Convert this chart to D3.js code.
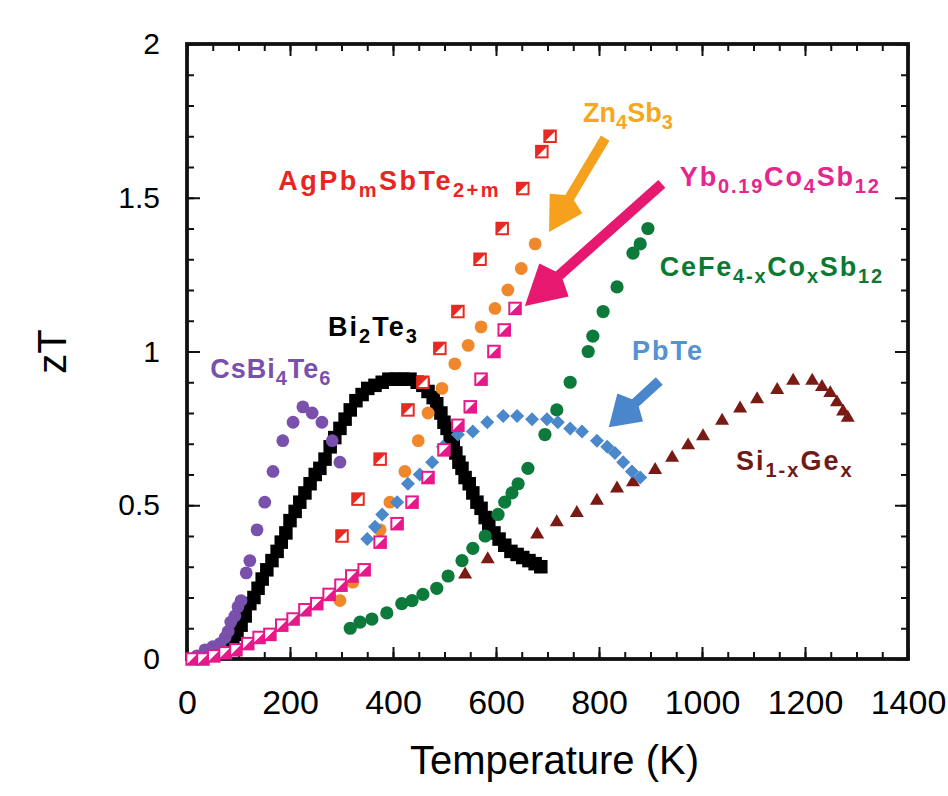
<!DOCTYPE html>
<html>
<head>
<meta charset="utf-8">
<script src="https://cdn.jsdelivr.net/npm/d3@7/dist/d3.min.js"></script>
<style>
  html, body { margin: 0; padding: 0; background: #fff; }
  svg { display: block; }
  text { font-family: "Liberation Sans", Arial, Helvetica, sans-serif; }
</style>
</head>
<body>
<svg id="chart" width="948" height="796"></svg>
<script>
// zT versus temperature for several thermoelectric materials, [T (K), zT]
const csBi4Te6 = [[19,0.01],[35,0.03],[50,0.04],[64,0.05],[74,0.07],[80,0.09],[85,0.12],[93,0.14],[99,0.17],[105,0.19],[115,0.28],[122,0.32],[136,0.42],[151,0.51],[167,0.61],[186,0.71],[206,0.77],[225,0.82],[243,0.80],[262,0.77],[282,0.71],[297,0.64]];
const bi2Te3 = [[89,0.05],[97,0.08],[105,0.11],[113,0.14],[122,0.18],[130,0.20],[138,0.23],[146,0.26],[155,0.29],[165,0.32],[175,0.35],[183,0.38],[192,0.41],[200,0.45],[210,0.48],[219,0.51],[229,0.54],[239,0.57],[249,0.60],[258,0.62],[268,0.65],[278,0.69],[287,0.72],[297,0.75],[307,0.78],[317,0.81],[328,0.84],[340,0.86],[351,0.88],[365,0.89],[379,0.90],[392,0.91],[406,0.91],[419,0.91],[433,0.91],[447,0.90],[458,0.89],[468,0.87],[478,0.85],[485,0.83],[493,0.80],[499,0.77],[505,0.75],[511,0.72],[517,0.70],[522,0.67],[528,0.64],[534,0.62],[540,0.59],[548,0.57],[555,0.54],[563,0.51],[571,0.49],[579,0.46],[586,0.44],[596,0.41],[606,0.39],[617,0.37],[629,0.35],[641,0.34],[652,0.33],[664,0.32],[676,0.31],[687,0.30]];
const agPbSbTe = [[301,0.40],[332,0.52],[375,0.65],[429,0.81],[458,0.90],[491,1.01],[526,1.13],[569,1.30],[612,1.40],[652,1.53],[689,1.65],[705,1.70]];
const zn4Sb3 = [[297,0.19],[322,0.25],[375,0.42],[394,0.51],[423,0.61],[449,0.71],[468,0.80],[495,0.88],[520,0.96],[546,1.02],[571,1.08],[598,1.14],[623,1.20],[649,1.27],[676,1.35]];
const ybCoSb = [[10,0.00],[31,0.00],[52,0.01],[74,0.02],[95,0.03],[118,0.05],[140,0.07],[161,0.08],[184,0.11],[206,0.13],[229,0.16],[252,0.18],[276,0.21],[299,0.24],[320,0.27],[344,0.29],[375,0.38],[408,0.44],[437,0.51],[468,0.59],[499,0.68],[526,0.76],[550,0.82],[571,0.91],[596,1.00],[616,1.07],[637,1.14]];
const ceFeCoSb = [[317,0.10],[336,0.12],[359,0.13],[388,0.15],[417,0.18],[437,0.19],[458,0.21],[485,0.23],[507,0.27],[534,0.32],[555,0.36],[579,0.40],[604,0.47],[617,0.51],[631,0.54],[643,0.57],[662,0.62],[695,0.73],[718,0.81],[744,0.90],[779,1.00],[788,1.05],[808,1.13],[835,1.21],[866,1.32],[880,1.35],[895,1.40]];
const pbTe = [[350,0.39],[365,0.43],[379,0.47],[408,0.51],[429,0.57],[452,0.60],[476,0.64],[497,0.69],[526,0.73],[555,0.74],[583,0.77],[614,0.79],[641,0.79],[670,0.78],[699,0.78],[720,0.77],[744,0.75],[767,0.74],[796,0.71],[816,0.69],[831,0.67],[847,0.64],[864,0.61],[880,0.59]];
const siGe = [[540,0.28],[584,0.33],[680,0.41],[718,0.45],[757,0.48],[796,0.52],[835,0.56],[866,0.58],[909,0.62],[942,0.66],[973,0.70],[1002,0.73],[1039,0.78],[1074,0.82],[1107,0.85],[1146,0.88],[1177,0.91],[1214,0.91],[1233,0.89],[1249,0.87],[1262,0.84],[1274,0.81],[1283,0.79]];

// axis ticks
const xTicks = [0, 200, 400, 600, 800, 1000, 1200, 1400];
const yTicks = [0, 0.5, 1, 1.5, 2];
const xMinor = d3.range(0, 1401, 50);
const yMinor = d3.range(0, 2.001, 0.1);

// material names: [text, isSubscript]
const nameCs = [["CsBi",0],["4",1],["Te",0],["6",1]];
const nameBi = [["Bi",0],["2",1],["Te",0],["3",1]];
const nameAg = [["AgPb",0],["m",1],["SbTe",0],["2+m",1]];
const nameZn = [["Zn",0],["4",1],["Sb",0],["3",1]];
const nameYb = [["Yb",0],["0.19",1],["Co",0],["4",1],["Sb",0],["12",1]];
const nameCe = [["CeFe",0],["4-x",1],["Co",0],["x",1],["Sb",0],["12",1]];
const namePb = [["PbTe",0]];
const nameSi = [["Si",0],["1-x",1],["Ge",0],["x",1]];

const svg = d3.select("#chart");
const x = d3.scaleLinear().domain([0, 1400]).range([187, 908]);
const y = d3.scaleLinear().domain([0, 2]).range([659, 44]);

// ---- axes (ticks point inward) ----
const axisColor = "#111";
function styleAxis(g) {
  g.select(".domain").remove();
  g.selectAll(".tick line").attr("stroke", axisColor).attr("stroke-width", 2);
}
svg.append("g").attr("transform", `translate(0,${y(0)})`)
  .call(d3.axisBottom(x).tickValues(xMinor).tickSize(-7).tickFormat(""))
  .call(styleAxis);
svg.append("g").attr("transform", `translate(0,${y(0)})`)
  .call(d3.axisBottom(x).tickValues(xTicks).tickSize(-12).tickPadding(31).tickFormat(d3.format("d")))
  .call(styleAxis)
  .call(g => g.selectAll("text").attr("font-size", 34).attr("fill", "#000").attr("font-family", "Liberation Sans, Arial, sans-serif"));
svg.append("g").attr("transform", `translate(0,${y(2)})`)
  .call(d3.axisTop(x).tickValues(xMinor).tickSize(-7).tickFormat(""))
  .call(styleAxis);
svg.append("g").attr("transform", `translate(0,${y(2)})`)
  .call(d3.axisTop(x).tickValues(xTicks).tickSize(-12).tickFormat(""))
  .call(styleAxis);
svg.append("g").attr("transform", `translate(${x(0)},0)`)
  .call(d3.axisLeft(y).tickValues(yMinor).tickSize(-7).tickFormat(""))
  .call(styleAxis);
svg.append("g").attr("transform", `translate(${x(0)},0)`)
  .call(d3.axisLeft(y).tickValues(yTicks).tickSize(-13).tickPadding(27).tickFormat(d => String(d)))
  .call(styleAxis)
  .call(g => g.selectAll("text").attr("font-size", 30).attr("fill", "#000").attr("font-family", "Liberation Sans, Arial, sans-serif"));
svg.append("g").attr("transform", `translate(${x(1400)},0)`)
  .call(d3.axisRight(y).tickValues(yMinor).tickSize(-7).tickFormat(""))
  .call(styleAxis);
svg.append("g").attr("transform", `translate(${x(1400)},0)`)
  .call(d3.axisRight(y).tickValues(yTicks).tickSize(-13).tickFormat(""))
  .call(styleAxis);

svg.append("rect")
  .attr("x", x(0)).attr("y", y(2))
  .attr("width", x(1400) - x(0)).attr("height", y(0) - y(2))
  .attr("fill", "none").attr("stroke", axisColor).attr("stroke-width", 3.8);

// axis titles
svg.append("text")
  .attr("transform", `translate(66,${y(1)}) rotate(-90)`)
  .attr("text-anchor", "middle").attr("font-size", 40).text("zT");
svg.append("text")
  .attr("x", (x(0) + x(1400)) / 2 + 7).attr("y", 774)
  .attr("text-anchor", "middle").attr("font-size", 40).text("Temperature (K)");

// ---- markers ----
const plot = svg.append("g");

function circles(data, color, r) {
  plot.append("g").selectAll("circle").data(data).join("circle")
    .attr("cx", d => x(d[0])).attr("cy", d => y(d[1])).attr("r", r).attr("fill", color);
}
function squares(data, color, s) {
  plot.append("g").selectAll("rect").data(data).join("rect")
    .attr("x", d => x(d[0]) - s / 2).attr("y", d => y(d[1]) - s / 2)
    .attr("width", s).attr("height", s).attr("fill", color);
}
function halfSquares(data, color, s, upperLeft) {
  const g = plot.append("g").selectAll("g").data(data).join("g")
    .attr("transform", d => `translate(${x(d[0])},${y(d[1])})`);
  const h = s / 2;
  g.append("rect").attr("x", -h).attr("y", -h).attr("width", s).attr("height", s)
    .attr("fill", "#fff").attr("stroke", color).attr("stroke-width", 2);
  g.append("path")
    .attr("d", upperLeft ? `M${-h},${-h}L${h},${-h}L${-h},${h}Z` : `M${h},${-h}L${h},${h}L${-h},${h}Z`)
    .attr("fill", color);
}
function diamonds(data, color, r) {
  plot.append("g").selectAll("path").data(data).join("path")
    .attr("transform", d => `translate(${x(d[0])},${y(d[1])})`)
    .attr("d", `M0,${-r}L${r},0L0,${r}L${-r},0Z`).attr("fill", color);
}
function triangles(data, color, w) {
  plot.append("g").selectAll("path").data(data).join("path")
    .attr("transform", d => `translate(${x(d[0])},${y(d[1])})`)
    .attr("d", `M0,${-w * 0.45}L${w / 2},${w * 0.4}L${-w / 2},${w * 0.4}Z`).attr("fill", color);
}

squares(bi2Te3, "#000", 13.5);
circles(ceFeCoSb, "#0d7a3b", 6.6);
triangles(siGe, "#7a1a15", 14);
circles(zn4Sb3, "#f0872b", 6.4);
diamonds(pbTe, "#4a87cb", 7);
circles(csBi4Te6, "#7a50ad", 6.4);
halfSquares(agPbSbTe, "#e62a22", 11.5, true);
halfSquares(ybCoSb, "#e5198a", 11.5, false);

// ---- arrows ----
function arrow(from, to, color, w, headLen, headHalf) {
  const x0 = x(from[0]), y0 = y(from[1]), x1 = x(to[0]), y1 = y(to[1]);
  const len = Math.hypot(x1 - x0, y1 - y0);
  const ux = (x1 - x0) / len, uy = (y1 - y0) / len;
  const px = -uy, py = ux;
  const bx = x1 - ux * headLen, by = y1 - uy * headLen;
  const pts = [
    [x0 + px * w / 2, y0 + py * w / 2],
    [bx + px * w / 2, by + py * w / 2],
    [bx + px * headHalf + ux * 7, by + py * headHalf + uy * 7],
    [x1, y1],
    [bx - px * headHalf + ux * 7, by - py * headHalf + uy * 7],
    [bx - px * w / 2, by - py * w / 2],
    [x0 - px * w / 2, y0 - py * w / 2]
  ];
  svg.append("path").attr("d", "M" + pts.map(p => p.join(",")).join("L") + "Z").attr("fill", color);
}
arrow([812, 1.694], [703, 1.389], "#f5a11e", 10, 40, 19);
arrow([922, 1.545], [656, 1.148], "#e6186f", 10.5, 46, 22);
arrow([917, 0.904], [819, 0.754], "#4a86cc", 10, 36, 19);

// ---- material labels ----
function label(parts, at, color, spacing) {
  const t = svg.append("text").attr("x", x(at[0])).attr("y", y(at[1]))
    .attr("font-size", 27).attr("font-weight", "bold").attr("fill", color)
    .attr("letter-spacing", spacing);
  let shifted = false;
  parts.forEach(([s, sub]) => {
    const ts = t.append("tspan").text(s);
    if (sub && !shifted) { ts.attr("dy", 7).attr("font-size", 20); shifted = true; }
    else if (sub) { ts.attr("font-size", 20); }
    else if (!sub && shifted) { ts.attr("dy", -7); shifted = false; }
  });
}
label(nameCs, [45, 0.914], "#7a50ad", 1);
label(nameBi, [274, 1.05], "#000", 2);
label(nameAg, [177, 1.525], "#e8251f", 2.5);
label(nameZn, [769, 1.746], "#f5a81c", 0);
label(nameYb, [957, 1.538], "#e4268f", 1.8);
label(nameCe, [918, 1.245], "#0a7a32", 1.8);
label(namePb, [864, 0.972], "#5592d2", 2);
label(nameSi, [1066, 0.615], "#6e1a16", 2);
</script>
</body>
</html>
